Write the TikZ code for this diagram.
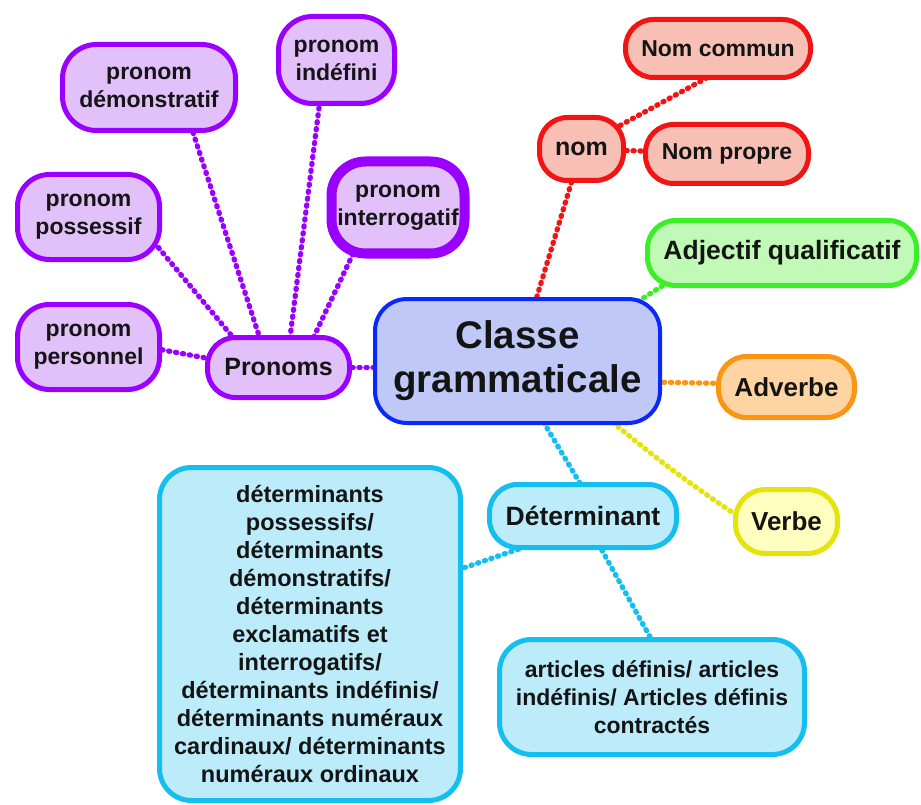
\documentclass[tikz,border=0pt]{standalone}
\usepackage{fontspec}
\setmainfont{Liberation Sans}
\usetikzlibrary{calc,backgrounds}
\definecolor{purB}{RGB}{153,0,255}
\definecolor{purF}{RGB}{226,192,250}
\definecolor{bluB}{RGB}{10,40,250}
\definecolor{bluF}{RGB}{192,200,248}
\definecolor{redB}{RGB}{240,20,20}
\definecolor{redF}{RGB}{248,192,180}
\definecolor{grnB}{RGB}{60,238,40}
\definecolor{grnF}{RGB}{192,250,182}
\definecolor{orgB}{RGB}{250,150,20}
\definecolor{orgF}{RGB}{253,212,162}
\definecolor{yelB}{RGB}{228,228,10}
\definecolor{yelF}{RGB}{255,255,192}
\definecolor{cyaB}{RGB}{20,190,240}
\definecolor{cyaF}{RGB}{188,236,250}
\definecolor{txt}{RGB}{20,20,20}
\tikzset{
  box/.style={draw, rectangle, rounded corners=28pt, line width=5pt, inner sep=0pt,
    align=center, text=txt, font=\bfseries\fontsize{23}{28}\selectfont},
  purbox/.style={box, draw=purB, fill=purF},
  redbox/.style={box, draw=redB, fill=redF},
  cyabox/.style={box, draw=cyaB, fill=cyaF},
  link/.style={line width=5.3pt, line cap=round, dash pattern=on 1.2pt off 5.8pt},
}
\begin{document}
\begin{tikzpicture}[x=1pt,y=-1pt]
\useasboundingbox (0,0) rectangle (921,805);
% central
\node[box, draw=bluB, fill=bluF, line width=4pt, rounded corners=32pt,
  minimum width=285pt, minimum height=124pt,
  font=\bfseries\fontsize{38.5}{44}\selectfont] (cls) at (517.5,361) {Classe\\grammaticale};
% pronouns
\node[purbox, minimum width=142pt, minimum height=60pt, font=\bfseries\fontsize{25}{28}\selectfont] (pron) at (278.5,367.5) {Pronoms};
\node[purbox, minimum width=142pt, minimum height=85pt, rounded corners=32pt] (pers) at (88.5,347) {pronom\\personnel};
\node[purbox, minimum width=142pt, minimum height=85pt, rounded corners=32pt] (poss) at (88.5,217) {pronom\\possessif};
\node[purbox, minimum width=173pt, minimum height=86pt, rounded corners=34pt] (dem) at (149,87.5) {pronom\\démonstratif};
\node[purbox, minimum width=116pt, minimum height=87pt, rounded corners=34pt] (indef) at (336.5,60) {pronom\\indéfini};
\node[purbox, line width=10pt, minimum width=133pt, minimum height=92pt, rounded corners=34pt] (interr) at (398,207.5) {pronom\\interrogatif};
% nom
\node[redbox, minimum width=84pt, minimum height=63pt, font=\bfseries\fontsize{25}{28}\selectfont] (nom) at (581.5,149) {nom};
\node[redbox, minimum width=185pt, minimum height=58pt] (commun) at (718,48.5) {Nom commun};
\node[redbox, minimum width=163pt, minimum height=59pt] (propre) at (727,154) {Nom propre};
% others
\node[box, draw=grnB, fill=grnF, minimum width=269pt, minimum height=65pt, font=\bfseries\fontsize{26.5}{30}\selectfont] (adj) at (782,253) {Adjectif qualificatif};
\node[box, draw=orgB, fill=orgF, minimum width=136pt, minimum height=61pt, font=\bfseries\fontsize{26}{30}\selectfont] (adv) at (786.5,387) {Adverbe};
\node[box, draw=yelB, fill=yelF, minimum width=102pt, minimum height=64pt, rounded corners=30pt, font=\bfseries\fontsize{26}{30}\selectfont] (verbe) at (786.5,521.5) {Verbe};
% determinants
\node[cyabox, minimum width=187pt, minimum height=63pt, font=\bfseries\fontsize{26.5}{30}\selectfont] (det) at (583,516) {Déterminant};
\node[cyabox, minimum width=305pt, minimum height=115pt, rounded corners=32pt] (art) at (652,697) {articles définis/ articles\\indéfinis/ Articles définis\\contractés};
\node[cyabox, minimum width=301pt, minimum height=333pt, rounded corners=32pt, font=\bfseries\fontsize{23.5}{28}\selectfont] (dbox) at (310,634) {déterminants\\possessifs/\\déterminants\\démonstratifs/\\déterminants\\exclamatifs et\\interrogatifs/\\déterminants indéfinis/\\déterminants numéraux\\cardinaux/ déterminants\\numéraux ordinaux};
% connectors
\begin{scope}[on background layer]
\draw[link, draw=purB] (pron) -- (pron -| cls);
\draw[link, draw=purB] ($(pers)+(32,-5)$) -- ($(pron)+(-38,-3)$);
\draw[link, draw=purB] ($(poss)+(52,9)$) -- ($(pron)+(-33,-15)$);
\draw[link, draw=purB] ($(dem)+(31,5)$) -- ($(pron)+(-15,-18)$);
\draw[link, draw=purB] ($(indef)+(-14,20)$) -- ($(pron)+(10,-18)$);
\draw[link, draw=purB] ($(interr)+(-33,21)$) -- ($(pron)+(27,-13)$);
\draw[link, draw=redB] (cls) -- (nom);
\draw[link, draw=redB] ($(nom)+(14,-10)$) -- ($(commun)+(4,21)$);
\draw[link, draw=redB] (nom) -- (propre);
\draw[link, draw=grnB] ($(cls)+(79,-33)$) -- ($(adj)+(-98,19)$);
\draw[link, draw=orgB] ($(cls)+(83,20)$) -- ($(adv)+(-36,-3)$);
\draw[link, draw=yelB] ($(cls)+(58,29)$) to[bend right=4] ($(verbe)+(-27,9)$);
\draw[link, draw=cyaB] ($(cls)+(8,31)$) -- ($(det)+(7,-16)$);
\draw[link, draw=cyaB] (det) -- ($(art)+(8,-42)$);
\draw[link, draw=cyaB] ($(det)+(-38,24)$) -- ($(dbox)+(130,-58)$);
\end{scope}
\end{tikzpicture}
\end{document}
